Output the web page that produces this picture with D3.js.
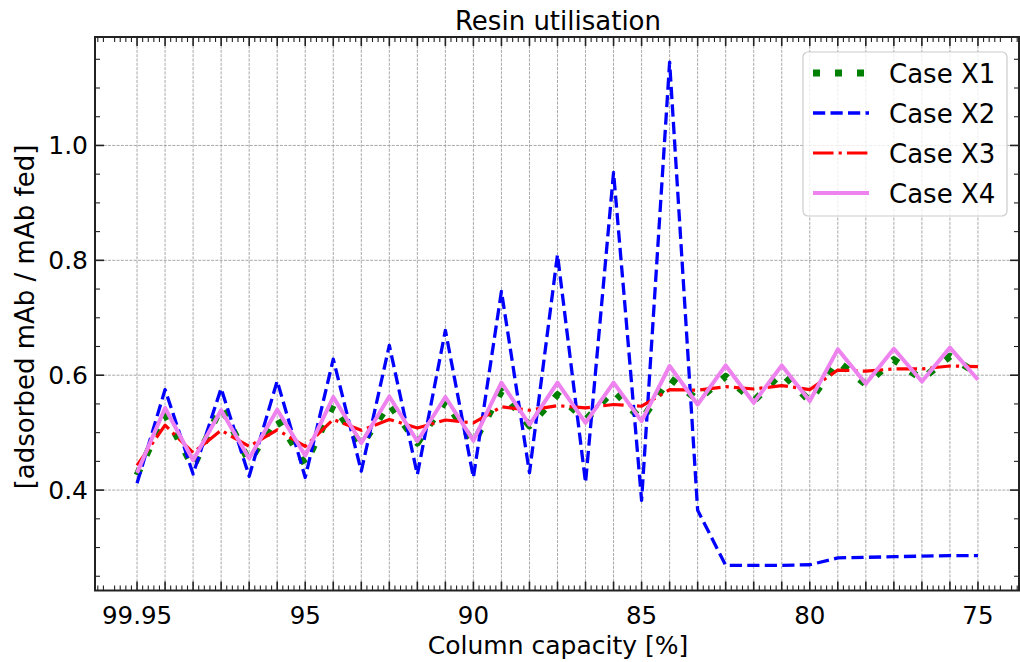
<!DOCTYPE html>
<html>
<head>
<meta charset="utf-8">
<script src="https://cdn.jsdelivr.net/npm/d3@7"></script>
<style>
  html, body { margin: 0; padding: 0; background: #fff; }
  svg { display: block; font-family: "DejaVu Sans", sans-serif; }
</style>
</head>
<body>
<svg id="chart" width="1020" height="662"></svg>
<script>
// ---- data ----
const pointIndex = d3.range(31);
const xTickIndex = [0, 6, 12, 18, 24, 30];
const xTickLabels = ["99.95", "95", "90", "85", "80", "75"];
const yTicks = [0.4, 0.6, 0.8, 1.0];

const caseX1 = [0.426, 0.532, 0.440, 0.545, 0.450, 0.525, 0.445, 0.548, 0.478, 0.550,
                0.482, 0.555, 0.482, 0.572, 0.512, 0.566, 0.522, 0.574, 0.522, 0.595,
                0.557, 0.598, 0.555, 0.604, 0.555, 0.624, 0.584, 0.627, 0.593, 0.633, 0.602];
const caseX2 = [0.412, 0.575, 0.428, 0.577, 0.424, 0.590, 0.422, 0.628, 0.433, 0.652,
                0.427, 0.678, 0.422, 0.746, 0.430, 0.810, 0.413, 0.953, 0.382, 1.145,
                0.365, 0.269, 0.269, 0.269, 0.270, 0.282, 0.283, 0.284, 0.285, 0.286, 0.286];
const caseX3 = [0.443, 0.513, 0.465, 0.504, 0.476, 0.505, 0.476, 0.523, 0.504, 0.523,
                0.508, 0.522, 0.517, 0.545, 0.539, 0.547, 0.543, 0.549, 0.546, 0.575,
                0.574, 0.580, 0.576, 0.582, 0.575, 0.609, 0.607, 0.611, 0.611, 0.616, 0.615];
const caseX4 = [0.430, 0.543, 0.452, 0.539, 0.455, 0.540, 0.460, 0.562, 0.482, 0.563,
                0.485, 0.562, 0.486, 0.587, 0.514, 0.587, 0.517, 0.587, 0.520, 0.616,
                0.549, 0.617, 0.552, 0.617, 0.555, 0.645, 0.585, 0.646, 0.589, 0.648, 0.592];
const seriesNames = ["Case X1", "Case X2", "Case X3", "Case X4"];

// ---- styles ----
const styles = [
  { color: "#008000", width: 7,   dash: "7,15" },
  { color: "#0000ff", width: 3.3, dash: "12.2,5.3" },
  { color: "#ff0000", width: 3.2, dash: "20.5,5.1,3.2,5.1" },
  { color: "#ee82ee", width: 4,   dash: null }
];
const seriesData = [caseX1, caseX2, caseX3, caseX4];

const svg = d3.select("#chart");
const L = 95, R = 1019, T = 37, B = 590.5;

const allVals = seriesData.flat();
const [ymin, ymax] = d3.extent(allVals);
const ypad = (ymax - ymin) * 0.05;
const x = d3.scaleLinear().domain([-1.5, 31.5]).range([L, R + 1]);
const y = d3.scaleLinear().domain([ymin - ypad, ymax + ypad]).range([B, T]);

// grid
const grid = svg.append("g").attr("stroke", "#929292").attr("stroke-width", 0.8)
  .attr("stroke-dasharray", "3,1.3");
pointIndex.forEach(i => grid.append("line")
  .attr("x1", x(i)).attr("x2", x(i)).attr("y1", T).attr("y2", B));
yTicks.forEach(v => grid.append("line")
  .attr("x1", L).attr("x2", R).attr("y1", y(v)).attr("y2", y(v)));

// lines
const line = d3.line().x((d, i) => x(i)).y(d => y(d));
svg.append("clipPath").attr("id", "clip").append("rect")
  .attr("x", L).attr("y", T).attr("width", R - L).attr("height", B - T);
seriesData.forEach((data, k) => {
  const s = styles[k];
  svg.append("path").attr("d", line(data))
    .attr("fill", "none").attr("stroke", s.color).attr("stroke-width", s.width)
    .attr("stroke-dasharray", s.dash).attr("stroke-linejoin", "round")
    .attr("clip-path", "url(#clip)");
});

// ticks (inward, all four sides)
const ticks = svg.append("g").attr("stroke", "#222");
const xMinor = d3.range(-1.4, 31.5, 0.2).filter(v => Math.abs(v - Math.round(v)) > 1e-6);
pointIndex.forEach(i => {
  ticks.append("line").attr("x1", x(i)).attr("x2", x(i)).attr("y1", B).attr("y2", B - 9).attr("stroke-width", 1.6);
  ticks.append("line").attr("x1", x(i)).attr("x2", x(i)).attr("y1", T).attr("y2", T + 9).attr("stroke-width", 1.6);
});
xMinor.forEach(v => {
  ticks.append("line").attr("x1", x(v)).attr("x2", x(v)).attr("y1", B).attr("y2", B - 5).attr("stroke-width", 1.1);
  ticks.append("line").attr("x1", x(v)).attr("x2", x(v)).attr("y1", T).attr("y2", T + 5).attr("stroke-width", 1.1);
});
const yMinor = d3.range(0.25, 1.19, 0.05).filter(v => !yTicks.some(t => Math.abs(t - v) < 1e-6));
yTicks.forEach(v => {
  ticks.append("line").attr("x1", L).attr("x2", L + 9).attr("y1", y(v)).attr("y2", y(v)).attr("stroke-width", 1.6);
  ticks.append("line").attr("x1", R).attr("x2", R - 9).attr("y1", y(v)).attr("y2", y(v)).attr("stroke-width", 1.6);
});
yMinor.forEach(v => {
  ticks.append("line").attr("x1", L).attr("x2", L + 5).attr("y1", y(v)).attr("y2", y(v)).attr("stroke-width", 1.1);
  ticks.append("line").attr("x1", R).attr("x2", R - 5).attr("y1", y(v)).attr("y2", y(v)).attr("stroke-width", 1.1);
});

// frame
svg.append("rect").attr("x", L).attr("y", T).attr("width", R - L).attr("height", B - T)
  .attr("fill", "none").attr("stroke", "#222").attr("stroke-width", 2);

// tick labels
xTickIndex.forEach((i, k) => svg.append("text")
  .attr("x", x(i)).attr("y", 624).attr("text-anchor", "middle")
  .attr("font-size", 24.5).attr("fill", "#000").text(xTickLabels[k]));
yTicks.forEach(v => svg.append("text")
  .attr("x", 88).attr("y", y(v) + 9).attr("text-anchor", "end")
  .attr("font-size", 25).attr("fill", "#000").text(d3.format(".1f")(v)));

// titles
svg.append("text").attr("x", 558).attr("y", 30).attr("text-anchor", "middle")
  .attr("font-size", 26).text("Resin utilisation");
svg.append("text").attr("x", 558).attr("y", 654).attr("text-anchor", "middle")
  .attr("font-size", 25).text("Column capacity [%]");
svg.append("text").attr("transform", "translate(34,317) rotate(-90)").attr("text-anchor", "middle")
  .attr("font-size", 26).text("[adsorbed mAb / mAb fed]");

// legend
const lg = svg.append("g");
lg.append("rect").attr("x", 803).attr("y", 52).attr("width", 204).attr("height", 164)
  .attr("rx", 5).attr("fill", "#fff").attr("fill-opacity", 0.8)
  .attr("stroke", "#cccccc").attr("stroke-width", 1.2);
seriesNames.forEach((name, k) => {
  const s = styles[k];
  const yy = 73 + k * 40;
  lg.append("line").attr("x1", 813).attr("x2", 869).attr("y1", yy).attr("y2", yy)
    .attr("stroke", s.color).attr("stroke-width", s.width).attr("stroke-dasharray", s.dash);
  lg.append("text").attr("x", 889).attr("y", yy + 9.5).attr("font-size", 26).text(name);
});
</script>
</body>
</html>
